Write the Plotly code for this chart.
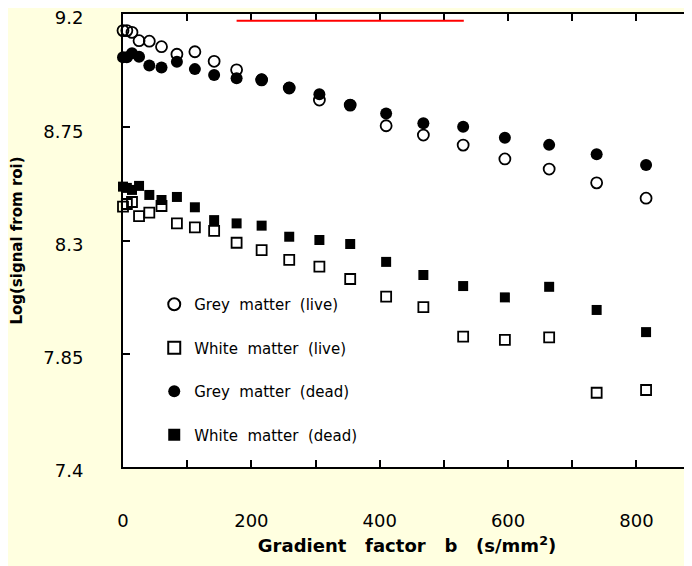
import plotly.graph_objects as go

# Gradient factor b (s/mm^2)
b_values = [0, 6, 14, 25, 41, 60, 84, 112, 142, 177, 216, 259, 306, 354,
            410, 468, 530, 595, 664, 738, 815]

grey_live = [9.134, 9.134, 9.127, 9.094, 9.092, 9.070, 9.040, 9.050, 9.012, 8.978,
             8.938, 8.906, 8.858, 8.838, 8.756, 8.719, 8.679, 8.624, 8.584, 8.529, 8.468]
white_live = [8.435, 8.445, 8.453, 8.397, 8.411, 8.437, 8.368, 8.352, 8.338, 8.291,
              8.262, 8.223, 8.196, 8.147, 8.077, 8.035, 7.918, 7.905, 7.915, 7.695, 7.706]
grey_dead = [9.028, 9.028, 9.044, 9.030, 8.995, 8.987, 9.010, 8.981, 8.958, 8.945,
             8.941, 8.907, 8.881, 8.838, 8.805, 8.766, 8.752, 8.708, 8.680, 8.643, 8.600]
white_dead = [8.514, 8.509, 8.501, 8.517, 8.481, 8.461, 8.473, 8.432, 8.381, 8.368,
              8.359, 8.315, 8.302, 8.286, 8.215, 8.163, 8.119, 8.074, 8.116, 8.024, 7.936]

series_names = ["Grey\u00a0 matter\u00a0 (live)", "White\u00a0 matter\u00a0 (live)",
                "Grey\u00a0 matter\u00a0 (dead)", "White\u00a0 matter\u00a0 (dead)"]

y_ticks = [7.4, 7.85, 8.3, 8.75, 9.2]
y_tick_labels = ["7.4", "7.85", "8.3", "8.75", "9.2"]
x_ticks = [0, 100, 200, 300, 400, 500, 600, 700, 800]
x_tick_labels = ["0", "", "200", "", "400", "", "600", "", "800"]

FONT = "DejaVu Sans, Verdana, sans-serif"

fig = go.Figure()

styles = [
    dict(symbol="circle-open", size=11, color="black", line=dict(width=1.8, color="black")),
    dict(symbol="square-open", size=10, color="black", line=dict(width=1.8, color="black")),
    dict(symbol="circle", size=12, color="black", line=dict(width=0)),
    dict(symbol="square", size=10, color="black", line=dict(width=0)),
]
data = [grey_live, white_live, grey_dead, white_dead]

for i, (name, vals, st) in enumerate(zip(series_names, data, styles)):
    fig.add_trace(go.Scatter(
        x=b_values, y=vals, mode="markers", name=name,
        legendgroup=f"g{i}", marker=st, cliponaxis=False,
    ))

tick_common = dict(ticks="inside", ticklen=7, tickwidth=1.6, tickcolor="black",
                   showgrid=False, zeroline=False)

fig.update_layout(
    width=692, height=566,
    margin=dict(l=115, r=9, t=6, b=107, autoexpand=False),
    paper_bgcolor="#ffffe0", plot_bgcolor="white",
    font=dict(family=FONT, color="black", size=15),
    showlegend=True,
    legend=dict(
        x=0.055, y=0.395, xanchor="left", yanchor="top",
        bgcolor="rgba(0,0,0,0)", borderwidth=0,
        font=dict(family=FONT, size=15, color="black"),
        tracegroupgap=21, itemsizing="constant",
    ),
    xaxis=dict(
        range=[0, 885], tickvals=x_ticks, ticktext=x_tick_labels,
        showline=True, linecolor="black", linewidth=2, mirror="ticks",
        automargin=False,
        ticklabelstandoff=36, ticklabeloverflow="allow",
        tickfont=dict(family=FONT, size=18, color="black"),
        title=dict(text="Gradient\u00a0\u00a0 factor\u00a0\u00a0 b\u00a0\u00a0 (s/mm<sup>2</sup>)",
                   font=dict(family=FONT, size=18, color="black", weight="bold"),
                   standoff=10),
        **tick_common,
    ),
    yaxis=dict(
        range=[7.4, 9.2], tickvals=y_ticks, ticktext=y_tick_labels,
        showline=True, linecolor="black", linewidth=2, mirror="ticks",
        automargin=False,
        ticklabelstandoff=34, ticklabeloverflow="allow", ticklabelshift=4,
        tickfont=dict(family=FONT, size=18, color="black"),
        title=dict(text="Log(signal from roi)",
                   font=dict(family=FONT, size=15, color="black", weight="bold"),
                   standoff=18),
        **tick_common,
    ),
    shapes=[dict(type="line", xref="paper", yref="paper", x0=0.2, x1=0.6, y0=0.985, y1=0.985,
                 line=dict(color="red", width=2), layer="above")],
)

fig.write_html("out.html")
